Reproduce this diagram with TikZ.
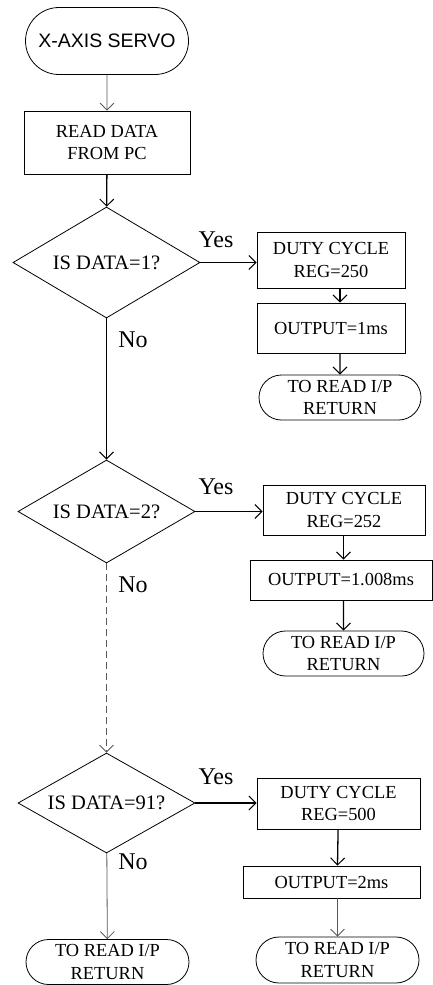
\documentclass[tikz,border=0pt]{standalone}
\usepackage{fontspec}
\setmainfont{Liberation Serif}
\newfontfamily\arialfont{Liberation Sans}
\usetikzlibrary{arrows.meta, positioning, shapes.geometric, shapes.misc}

\begin{document}
\begin{tikzpicture}[
    x=1pt, y=-1pt,
    font=\fontsize{18.4}{22.5}\selectfont,
    box/.style={draw, line width=0.8pt, inner sep=1pt, align=center},
    term/.style={draw, rounded rectangle, line width=0.8pt, inner sep=1pt, align=center},
    decide/.style={draw, diamond, aspect=1.7, line width=0.8pt, inner sep=0pt, align=center,
                   font=\fontsize{20.5}{24}\selectfont},
    flow/.style={line width=1.3pt, -{Straight Barb[length=7pt,width=14pt,line width=1pt]}},
    thin flow/.style={line width=0.8pt, gray!70!black, -{Straight Barb[length=7pt,width=14pt]}},
    lbl/.style={inner sep=0pt, font=\fontsize{24}{28}\selectfont},
]
\useasboundingbox (0,0) rectangle (433,985);

% start and input
\node[term, minimum width=165pt, minimum height=67pt] (start) at (107,41) {\arialfont\fontsize{19.5}{23}\selectfont X-AXIS SERVO};
\node[box, minimum width=166pt, minimum height=63pt] (read) at (107,142.5) {READ DATA\\FROM PC};

% test 1
\node[decide, minimum width=187pt, minimum height=111pt] (d1) at (106.5,262.5) {IS DATA=1?};
\node[box, minimum width=148pt, minimum height=56pt] (duty1) at (331,260) {DUTY CYCLE\\REG=250};
\node[box, minimum width=148pt, minimum height=50pt] (out1) at (331,328) {OUTPUT=1ms};
\node[term, minimum width=164pt, minimum height=45pt] (ret1) at (340,397.5) {TO READ I/P\\RETURN};
\node[lbl] (yes1) at (216,240) {Yes};
\node[lbl] (no1) at (133,340) {No};

% test 2
\node[decide, minimum width=177pt, minimum height=103pt] (d2) at (106.5,511.5) {IS DATA=2?};
\node[box, minimum width=162pt, minimum height=50pt] (duty2) at (344,510) {DUTY CYCLE\\REG=252};
\node[box, minimum width=182pt, minimum height=40pt] (out2) at (341,580) {OUTPUT=1.008ms};
\node[term, minimum width=163pt, minimum height=45pt] (ret2) at (343.5,653.5) {TO READ I/P\\RETURN};
\node[lbl] (yes2) at (216,487) {Yes};
\node[lbl] (no2) at (133,585) {No};

% test 91
\node[decide, minimum width=177pt, minimum height=100pt] (d3) at (106.5,803) {IS DATA=91?};
\node[box, minimum width=163pt, minimum height=51pt] (duty3) at (338.5,803.5) {DUTY CYCLE\\REG=500};
\node[box, minimum width=177pt, minimum height=32pt] (out3) at (331.5,882) {OUTPUT=2ms};
\node[term, minimum width=165pt, minimum height=46pt] (ret3) at (337.5,960) {TO READ I/P\\RETURN};
\node[term, minimum width=165pt, minimum height=45pt] (retL) at (107.5,962) {TO READ I/P\\RETURN};
\node[lbl] (yes3) at (216,777) {Yes};
\node[lbl] (no3) at (133,862) {No};

% connectors
\draw[thin flow] (start) -- (read);
\draw[flow] (read) -- (d1);
\draw[flow] (d1.east) -- (duty1.west |- d1.east);
\draw[flow] (duty1.south -| ret1) -- (out1.north -| ret1);
\draw[flow] (out1.south -| ret1) -- (ret1);
\draw[flow] (d1) -- (d2);
\draw[flow] (d2.east) -- (duty2.west |- d2.east);
\draw[flow] (duty2.south -| ret2) -- (out2.north -| ret2);
\draw[flow] (out2.south -| ret2) -- (ret2);
\draw[thin flow, dashed, dash pattern=on 7pt off 4pt] (d2) -- (d3);
\draw[flow] (d3.east) -- (duty3.west |- d3.east);
\draw[flow] (duty3) -- (out3.north -| ret3);
\draw[thin flow] (out3.south -| ret3) -- (ret3);
\draw[thin flow] (d3) -- (retL);
\end{tikzpicture}
\end{document}
